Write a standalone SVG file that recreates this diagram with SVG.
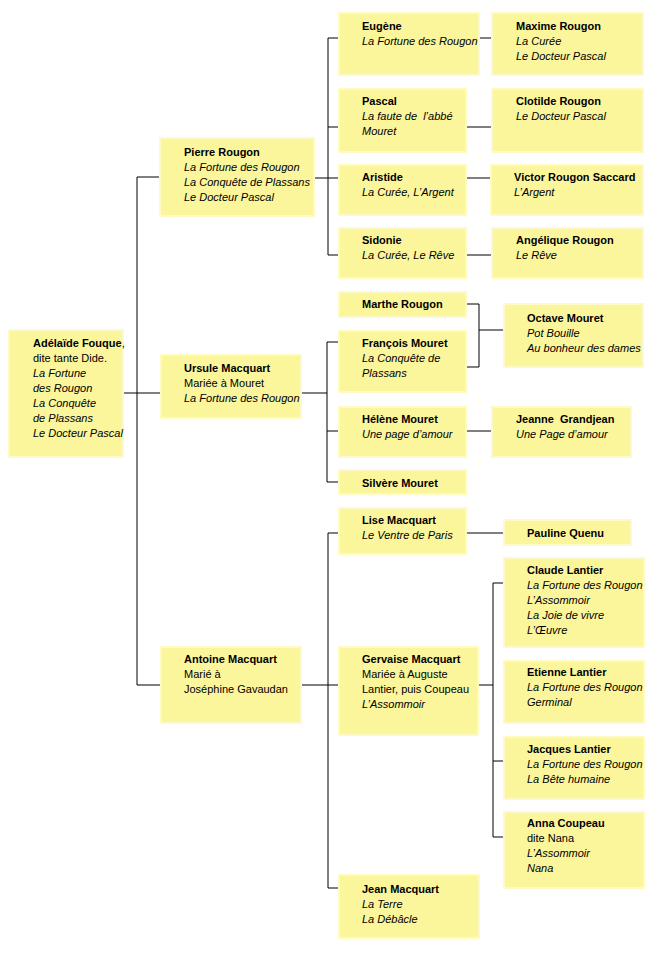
<svg xmlns="http://www.w3.org/2000/svg" width="658" height="954" viewBox="0 0 658 954">
<style>
.box{fill:#FBF69C;stroke:#FDFAC8;stroke-width:2}
text{font-family:"Liberation Sans",Arial,sans-serif;font-size:11px;fill:#000}
.b{font-weight:bold}
.i{font-style:italic}
.c{fill:none;stroke:#000;stroke-width:1}
</style>
<rect width="658" height="954" fill="#fff"/>
<g id="connectors">
<path class="c" d="M123,393H161 M137,177V685 M137,177H160 M137,685H161"/>
<path class="c" d="M314,178H339 M328,38V255 M328,38H339 M328,127H339 M328,255H339"/>
<path class="c" d="M479,38H492 M466,127H492 M466,178H491 M466,255H492"/>
<path class="c" d="M301,393H327 M327,342V482 M327,342H339 M327,431H339 M327,482H339"/>
<path class="c" d="M466,304H479V367H466 M479,330H504 M466,431H492 M466,533H504"/>
<path class="c" d="M301,685H339 M328,533V888 M328,533H339 M328,888H339"/>
<path class="c" d="M478,685H493 M493,583V837 M493,583H504 M493,761H504 M493,837H504"/>
</g>
<g id="adelaide"><rect class="box" x="9" y="330" width="114" height="127"/>
<text x="33" y="347"><tspan class="b">Adélaïde Fouque</tspan>,</text>
<text x="33" y="362">dite tante Dide.</text>
<text class="i" x="33" y="377">La Fortune</text>
<text class="i" x="33" y="392">des Rougon</text>
<text class="i" x="33" y="407">La Conquête</text>
<text class="i" x="33" y="422">de Plassans</text>
<text class="i" x="33" y="437">Le Docteur Pascal</text></g>
<g id="pierre"><rect class="box" x="160" y="138" width="154" height="78"/>
<text class="b" x="184" y="156">Pierre Rougon</text>
<text class="i" x="184" y="171">La Fortune des Rougon</text>
<text class="i" x="184" y="186">La Conquête de Plassans</text>
<text class="i" x="184" y="201">Le Docteur Pascal</text></g>
<g id="ursule"><rect class="box" x="161" y="355" width="140" height="63"/>
<text class="b" x="184" y="372">Ursule Macquart</text>
<text x="184" y="387">Mariée à Mouret</text>
<text class="i" x="184" y="402">La Fortune des Rougon</text></g>
<g id="antoine"><rect class="box" x="161" y="647" width="140" height="76"/>
<text class="b" x="184" y="663">Antoine Macquart</text>
<text x="184" y="678">Marié à</text>
<text x="184" y="693">Joséphine Gavaudan</text></g>
<g id="eugene"><rect class="box" x="339" y="13" width="140" height="62"/>
<text class="b" x="362" y="30">Eugène</text>
<text class="i" x="362" y="45">La Fortune des Rougon</text></g>
<g id="pascal"><rect class="box" x="339" y="89" width="127" height="63"/>
<text class="b" x="362" y="105">Pascal</text>
<text class="i" x="362" y="120">La faute de&#160; l’abbé</text>
<text class="i" x="362" y="135">Mouret</text></g>
<g id="aristide"><rect class="box" x="339" y="165" width="127" height="50"/>
<text class="b" x="362" y="181">Aristide</text>
<text class="i" x="362" y="196">La Curée, L’Argent</text></g>
<g id="sidonie"><rect class="box" x="339" y="228" width="127" height="50"/>
<text class="b" x="362" y="244">Sidonie</text>
<text class="i" x="362" y="259">La Curée, Le Rêve</text></g>
<g id="maxime"><rect class="box" x="492" y="13" width="151" height="62"/>
<text class="b" x="516" y="30">Maxime Rougon</text>
<text class="i" x="516" y="45">La Curée</text>
<text class="i" x="516" y="60">Le Docteur Pascal</text></g>
<g id="clotilde"><rect class="box" x="492" y="89" width="151" height="63"/>
<text class="b" x="516" y="105">Clotilde Rougon</text>
<text class="i" x="516" y="120">Le Docteur Pascal</text></g>
<g id="victor"><rect class="box" x="491" y="165" width="152" height="50"/>
<text class="b" x="514" y="181">Victor Rougon Saccard</text>
<text class="i" x="514" y="196">L’Argent</text></g>
<g id="angelique"><rect class="box" x="492" y="228" width="151" height="50"/>
<text class="b" x="516" y="244">Angélique Rougon</text>
<text class="i" x="516" y="259">Le Rêve</text></g>
<g id="marthe"><rect class="box" x="339" y="292" width="127" height="25"/>
<text class="b" x="362" y="308">Marthe Rougon</text></g>
<g id="francois"><rect class="box" x="339" y="331" width="127" height="61"/>
<text class="b" x="362" y="347">François Mouret</text>
<text class="i" x="362" y="362">La Conquête de</text>
<text class="i" x="362" y="377">Plassans</text></g>
<g id="helene"><rect class="box" x="339" y="407" width="127" height="50"/>
<text class="b" x="362" y="423">Hélène Mouret</text>
<text class="i" x="362" y="438">Une page d’amour</text></g>
<g id="silvere"><rect class="box" x="339" y="470" width="127" height="24"/>
<text class="b" x="362" y="487">Silvère Mouret</text></g>
<g id="octave"><rect class="box" x="504" y="304" width="139" height="63"/>
<text class="b" x="527" y="322">Octave Mouret</text>
<text class="i" x="527" y="337">Pot Bouille</text>
<text class="i" x="527" y="352">Au bonheur des dames</text></g>
<g id="jeanne"><rect class="box" x="492" y="407" width="139" height="50"/>
<text class="b" x="516" y="423">Jeanne&#160; Grandjean</text>
<text class="i" x="516" y="438">Une Page d’amour</text></g>
<g id="lise"><rect class="box" x="339" y="508" width="127" height="46"/>
<text class="b" x="362" y="524">Lise Macquart</text>
<text class="i" x="362" y="539">Le Ventre de Paris</text></g>
<g id="pauline"><rect class="box" x="504" y="520" width="127" height="25"/>
<text class="b" x="527" y="537">Pauline Quenu</text></g>
<g id="gervaise"><rect class="box" x="339" y="647" width="139" height="88"/>
<text class="b" x="362" y="663">Gervaise Macquart</text>
<text x="362" y="678">Mariée à Auguste</text>
<text x="362" y="693">Lantier, puis Coupeau</text>
<text class="i" x="362" y="708">L’Assommoir</text></g>
<g id="jean"><rect class="box" x="339" y="875" width="140" height="63"/>
<text class="b" x="362" y="893">Jean Macquart</text>
<text class="i" x="362" y="908">La Terre</text>
<text class="i" x="362" y="923">La Débâcle</text></g>
<g id="claude"><rect class="box" x="504" y="558" width="140" height="89"/>
<text class="b" x="527" y="574">Claude Lantier</text>
<text class="i" x="527" y="589">La Fortune des Rougon</text>
<text class="i" x="527" y="604">L’Assommoir</text>
<text class="i" x="527" y="619">La Joie de vivre</text>
<text class="i" x="527" y="634">L’Œuvre</text></g>
<g id="etienne"><rect class="box" x="504" y="661" width="140" height="62"/>
<text class="b" x="527" y="676">Etienne Lantier</text>
<text class="i" x="527" y="691">La Fortune des Rougon</text>
<text class="i" x="527" y="706">Germinal</text></g>
<g id="jacques"><rect class="box" x="504" y="737" width="140" height="62"/>
<text class="b" x="527" y="753">Jacques Lantier</text>
<text class="i" x="527" y="768">La Fortune des Rougon</text>
<text class="i" x="527" y="783">La Bête humaine</text></g>
<g id="anna"><rect class="box" x="504" y="812" width="140" height="76"/>
<text class="b" x="527" y="827">Anna Coupeau</text>
<text x="527" y="842">dite Nana</text>
<text class="i" x="527" y="857">L’Assommoir</text>
<text class="i" x="527" y="872">Nana</text></g>
</svg>
